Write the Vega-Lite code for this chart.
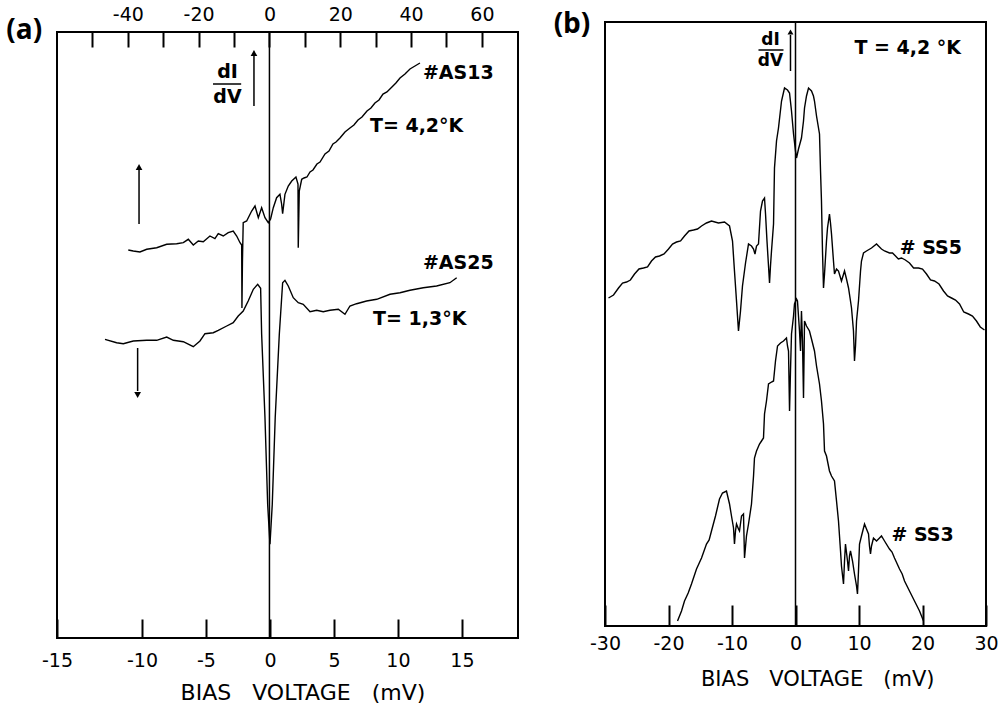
{
  "$schema": "https://vega.github.io/schema/vega-lite/v6.json",
  "autosize": {"type": "pad"},
  "padding": {"left": 5, "top": 4, "right": 0, "bottom": 0},
  "background": "white",
  "bounds": "flush",
  "spacing": 548,
  "config": {
    "view": {"stroke": "black", "strokeWidth": 2},
    "axis": {"domain": false, "grid": false, "tickColor": "black", "tickWidth": 2, "labelColor": "black", "labelFont": "DejaVu Sans", "labelFontSize": 19, "labelFlush": false, "labelOverlap": false, "title": null}
  },
  "resolve": {"scale": {"x": "independent", "y": "independent"}},
  "datasets": {
    "as": [
      {"c":"AS13","v":-11.07,"g":388},{"c":"AS13","v":-10.68,"g":387},{"c":"AS13","v":-10.16,"g":386},{"c":"AS13","v":-9.63,"g":388.7},{"c":"AS13","v":-8.85,"g":390.3},{"c":"AS13","v":-8.07,"g":393.7},{"c":"AS13","v":-7.29,"g":394.3},{"c":"AS13","v":-6.77,"g":395.3},{"c":"AS13","v":-6.38,"g":398.7},{"c":"AS13","v":-5.99,"g":393},{"c":"AS13","v":-5.6,"g":397},{"c":"AS13","v":-5.21,"g":396.3},{"c":"AS13","v":-4.69,"g":402},{"c":"AS13","v":-4.3,"g":399.3},{"c":"AS13","v":-4.04,"g":404.3},{"c":"AS13","v":-3.65,"g":402},{"c":"AS13","v":-3.26,"g":405.3},{"c":"AS13","v":-2.87,"g":407},{"c":"AS13","v":-2.6,"g":402},{"c":"AS13","v":-2.34,"g":395.3},{"c":"AS13","v":-2.21,"g":393},{"c":"AS13","v":-2.19,"g":330},{"c":"AS13","v":-2.15,"g":377},{"c":"AS13","v":-2.09,"g":415.3},{"c":"AS13","v":-1.82,"g":417},{"c":"AS13","v":-1.43,"g":427},{"c":"AS13","v":-1.17,"g":432},{"c":"AS13","v":-0.91,"g":420.3},{"c":"AS13","v":-0.65,"g":430.3},{"c":"AS13","v":-0.39,"g":420.3},{"c":"AS13","v":-0.13,"g":415.3},{"c":"AS13","v":0.05,"g":419},{"c":"AS13","v":0.26,"g":430.3},{"c":"AS13","v":0.52,"g":440.3},{"c":"AS13","v":0.78,"g":443.7},{"c":"AS13","v":0.91,"g":434},{"c":"AS13","v":0.99,"g":424.3},{"c":"AS13","v":1.17,"g":443.7},{"c":"AS13","v":1.43,"g":452},{"c":"AS13","v":1.7,"g":457},{"c":"AS13","v":2.03,"g":461},{"c":"AS13","v":2.19,"g":454},{"c":"AS13","v":2.21,"g":390.3},{"c":"AS13","v":2.29,"g":447},{"c":"AS13","v":2.48,"g":458.7},{"c":"AS13","v":2.66,"g":460},{"c":"AS13","v":2.89,"g":461},{"c":"AS13","v":3.13,"g":466},{"c":"AS13","v":3.36,"g":468},{"c":"AS13","v":3.67,"g":474},{"c":"AS13","v":3.91,"g":476},{"c":"AS13","v":4.3,"g":484},{"c":"AS13","v":4.61,"g":487},{"c":"AS13","v":4.92,"g":494},{"c":"AS13","v":5.16,"g":496},{"c":"AS13","v":5.47,"g":500},{"c":"AS13","v":5.86,"g":506},{"c":"AS13","v":6.25,"g":510},{"c":"AS13","v":6.56,"g":513},{"c":"AS13","v":6.88,"g":518},{"c":"AS13","v":7.19,"g":521},{"c":"AS13","v":7.58,"g":527},{"c":"AS13","v":7.89,"g":530},{"c":"AS13","v":8.2,"g":535},{"c":"AS13","v":8.52,"g":538},{"c":"AS13","v":8.83,"g":544},{"c":"AS13","v":9.14,"g":546},{"c":"AS13","v":9.53,"g":551},{"c":"AS13","v":9.84,"g":555},{"c":"AS13","v":10.16,"g":560},{"c":"AS13","v":10.55,"g":564},{"c":"AS13","v":10.94,"g":569},{"c":"AS13","v":11.33,"g":572},{"c":"AS13","v":11.72,"g":575},
      {"c":"AS25","v":-12.89,"g":298.7},{"c":"AS25","v":-11.98,"g":295.3},{"c":"AS25","v":-11.46,"g":294.3},{"c":"AS25","v":-10.68,"g":297},{"c":"AS25","v":-9.63,"g":297.7},{"c":"AS25","v":-8.85,"g":297.7},{"c":"AS25","v":-8.07,"g":301},{"c":"AS25","v":-7.55,"g":297.7},{"c":"AS25","v":-6.77,"g":296.3},{"c":"AS25","v":-5.99,"g":291.3},{"c":"AS25","v":-5.47,"g":297},{"c":"AS25","v":-5.08,"g":304.3},{"c":"AS25","v":-4.43,"g":305.3},{"c":"AS25","v":-4.04,"g":307.7},{"c":"AS25","v":-3.38,"g":312},{"c":"AS25","v":-2.87,"g":315.3},{"c":"AS25","v":-2.48,"g":322},{"c":"AS25","v":-2.09,"g":327},{"c":"AS25","v":-1.7,"g":337},{"c":"AS25","v":-1.3,"g":348.7},{"c":"AS25","v":-0.96,"g":353.7},{"c":"AS25","v":-0.73,"g":349.7},{"c":"AS25","v":-0.65,"g":303.7},{"c":"AS25","v":-0.39,"g":220.3},{"c":"AS25","v":-0.18,"g":133.7},{"c":"AS25","v":0.0,"g":93.7},{"c":"AS25","v":0.18,"g":133.7},{"c":"AS25","v":0.41,"g":220.3},{"c":"AS25","v":0.73,"g":303.7},{"c":"AS25","v":0.99,"g":355.3},{"c":"AS25","v":1.17,"g":357.7},{"c":"AS25","v":1.43,"g":352},{"c":"AS25","v":1.82,"g":340.3},{"c":"AS25","v":2.21,"g":335.3},{"c":"AS25","v":2.6,"g":333.7},{"c":"AS25","v":3.13,"g":326.3},{"c":"AS25","v":3.65,"g":327.7},{"c":"AS25","v":4.16,"g":326.3},{"c":"AS25","v":4.69,"g":327.7},{"c":"AS25","v":5.34,"g":328.7},{"c":"AS25","v":5.86,"g":323.7},{"c":"AS25","v":6.25,"g":332},{"c":"AS25","v":6.77,"g":334.3},{"c":"AS25","v":7.55,"g":337},{"c":"AS25","v":8.34,"g":338.7},{"c":"AS25","v":9.38,"g":343.7},{"c":"AS25","v":10.16,"g":345.3},{"c":"AS25","v":10.94,"g":347.7},{"c":"AS25","v":11.98,"g":350.3},{"c":"AS25","v":13.02,"g":352},{"c":"AS25","v":14.06,"g":355.3},{"c":"AS25","v":14.59,"g":360.3}
    ],
    "aArrows": [{"v":-10.23,"g":414,"g2":468},{"v":-10.34,"g":290,"g2":247},{"v":-1.25,"g":532,"g2":582}],
    "aHeads": [{"v":-10.23,"g":471,"dir":"up"},{"v":-10.34,"g":243,"dir":"down"},{"v":-1.25,"g":585,"dir":"up"}],
    "aBar": [{"v":-4.45,"v2":-2.25,"g":554}],
    "aLabels": [{"v":11.95,"g":565,"t":"#AS13"},{"v":7.81,"g":512,"t":"T= 4,2°K"},{"v":11.95,"g":375,"t":"#AS25"},{"v":8.05,"g":319,"t":"T= 1,3°K"}],
    "aFrac": [{"v":-3.32,"g":566,"t":"dI"},{"v":-3.32,"g":541,"t":"dV"}],
    "aTag": [{"v":-19.2,"g":607,"t":"(a)"}],
    "aTitle": [{"v":2.58,"g":0,"t":"BIAS\u00a0\u00a0 VOLTAGE\u00a0\u00a0 (mV)"}],
    "ss": [
      {"c":"SS5","v":-29.45,"g":328},{"c":"SS5","v":-28.66,"g":331},{"c":"SS5","v":-27.87,"g":338},{"c":"SS5","v":-27.24,"g":343},{"c":"SS5","v":-26.61,"g":344},{"c":"SS5","v":-26.0,"g":346},{"c":"SS5","v":-25.35,"g":352},{"c":"SS5","v":-24.65,"g":357},{"c":"SS5","v":-23.94,"g":358},{"c":"SS5","v":-23.3,"g":359},{"c":"SS5","v":-22.68,"g":365},{"c":"SS5","v":-22.05,"g":369},{"c":"SS5","v":-21.42,"g":370},{"c":"SS5","v":-20.7,"g":372},{"c":"SS5","v":-20.0,"g":377},{"c":"SS5","v":-19.37,"g":382},{"c":"SS5","v":-18.74,"g":384},{"c":"SS5","v":-18.1,"g":385},{"c":"SS5","v":-17.48,"g":390},{"c":"SS5","v":-16.77,"g":395},{"c":"SS5","v":-16.06,"g":396},{"c":"SS5","v":-15.43,"g":397},{"c":"SS5","v":-14.8,"g":400},{"c":"SS5","v":-14.02,"g":403},{"c":"SS5","v":-13.23,"g":405},{"c":"SS5","v":-12.13,"g":403},{"c":"SS5","v":-11.18,"g":404},{"c":"SS5","v":-10.39,"g":400},{"c":"SS5","v":-9.92,"g":385},{"c":"SS5","v":-9.61,"g":355},{"c":"SS5","v":-9.29,"g":325},{"c":"SS5","v":-8.98,"g":295},{"c":"SS5","v":-8.66,"g":315},{"c":"SS5","v":-8.35,"g":340},{"c":"SS5","v":-7.87,"g":363},{"c":"SS5","v":-7.4,"g":382},{"c":"SS5","v":-6.93,"g":380},{"c":"SS5","v":-6.61,"g":377},{"c":"SS5","v":-6.38,"g":372},{"c":"SS5","v":-6.14,"g":380},{"c":"SS5","v":-5.83,"g":382},{"c":"SS5","v":-5.51,"g":415},{"c":"SS5","v":-5.2,"g":425},{"c":"SS5","v":-4.88,"g":428},{"c":"SS5","v":-4.72,"g":412},{"c":"SS5","v":-4.49,"g":385},{"c":"SS5","v":-4.25,"g":360},{"c":"SS5","v":-4.09,"g":343},{"c":"SS5","v":-3.94,"g":360},{"c":"SS5","v":-3.78,"g":375},{"c":"SS5","v":-3.46,"g":402},{"c":"SS5","v":-3.31,"g":458},{"c":"SS5","v":-2.99,"g":485},{"c":"SS5","v":-2.68,"g":498},{"c":"SS5","v":-2.2,"g":525},{"c":"SS5","v":-1.73,"g":538},{"c":"SS5","v":-1.26,"g":536},{"c":"SS5","v":-0.94,"g":533},{"c":"SS5","v":-0.63,"g":515},{"c":"SS5","v":-0.31,"g":492},{"c":"SS5","v":0.0,"g":475},{"c":"SS5","v":0.16,"g":468},{"c":"SS5","v":0.47,"g":477},{"c":"SS5","v":0.94,"g":488},{"c":"SS5","v":1.26,"g":505},{"c":"SS5","v":1.42,"g":518},{"c":"SS5","v":1.73,"g":530},{"c":"SS5","v":2.05,"g":538},{"c":"SS5","v":2.52,"g":535},{"c":"SS5","v":2.83,"g":530},{"c":"SS5","v":2.99,"g":525},{"c":"SS5","v":3.31,"g":510},{"c":"SS5","v":3.78,"g":492},{"c":"SS5","v":3.94,"g":455},{"c":"SS5","v":4.09,"g":425},{"c":"SS5","v":4.25,"g":375},{"c":"SS5","v":4.41,"g":338},{"c":"SS5","v":4.57,"g":352},{"c":"SS5","v":4.88,"g":385},{"c":"SS5","v":5.04,"g":398},{"c":"SS5","v":5.35,"g":412},{"c":"SS5","v":5.51,"g":403},{"c":"SS5","v":5.67,"g":392},{"c":"SS5","v":5.98,"g":365},{"c":"SS5","v":6.14,"g":352},{"c":"SS5","v":6.46,"g":357},{"c":"SS5","v":6.77,"g":355},{"c":"SS5","v":7.24,"g":345},{"c":"SS5","v":7.72,"g":355},{"c":"SS5","v":8.03,"g":347},{"c":"SS5","v":8.35,"g":338},{"c":"SS5","v":8.66,"g":325},{"c":"SS5","v":8.82,"g":318},{"c":"SS5","v":9.13,"g":295},{"c":"SS5","v":9.29,"g":265},{"c":"SS5","v":9.45,"g":280},{"c":"SS5","v":9.61,"g":305},{"c":"SS5","v":9.92,"g":325},{"c":"SS5","v":10.24,"g":355},{"c":"SS5","v":10.39,"g":365},{"c":"SS5","v":10.71,"g":373},{"c":"SS5","v":11.18,"g":375},{"c":"SS5","v":11.97,"g":378},{"c":"SS5","v":12.76,"g":382},{"c":"SS5","v":13.07,"g":380},{"c":"SS5","v":13.54,"g":377},{"c":"SS5","v":14.02,"g":375},{"c":"SS5","v":14.8,"g":373},{"c":"SS5","v":15.28,"g":373},{"c":"SS5","v":15.75,"g":370},{"c":"SS5","v":16.2,"g":367},{"c":"SS5","v":16.69,"g":368},{"c":"SS5","v":17.3,"g":366},{"c":"SS5","v":17.95,"g":363},{"c":"SS5","v":18.6,"g":358},{"c":"SS5","v":19.37,"g":358},{"c":"SS5","v":20.0,"g":357},{"c":"SS5","v":20.63,"g":352},{"c":"SS5","v":21.26,"g":346},{"c":"SS5","v":21.89,"g":345},{"c":"SS5","v":22.6,"g":342},{"c":"SS5","v":23.31,"g":335},{"c":"SS5","v":23.94,"g":330},{"c":"SS5","v":24.57,"g":328},{"c":"SS5","v":25.2,"g":326},{"c":"SS5","v":25.83,"g":322},{"c":"SS5","v":26.5,"g":314},{"c":"SS5","v":27.24,"g":312},{"c":"SS5","v":27.87,"g":310},{"c":"SS5","v":28.5,"g":305},{"c":"SS5","v":29.1,"g":299},{"c":"SS5","v":29.76,"g":296},
      {"c":"SS3","v":-18.58,"g":5},{"c":"SS3","v":-17.95,"g":15},{"c":"SS3","v":-17.48,"g":25},{"c":"SS3","v":-16.9,"g":33},{"c":"SS3","v":-16.38,"g":42},{"c":"SS3","v":-15.59,"g":57},{"c":"SS3","v":-14.8,"g":68},{"c":"SS3","v":-14.02,"g":82},{"c":"SS3","v":-13.6,"g":86},{"c":"SS3","v":-13.23,"g":95},{"c":"SS3","v":-12.6,"g":110},{"c":"SS3","v":-11.97,"g":127},{"c":"SS3","v":-11.5,"g":133},{"c":"SS3","v":-10.87,"g":135},{"c":"SS3","v":-10.39,"g":122},{"c":"SS3","v":-10.08,"g":110},{"c":"SS3","v":-9.76,"g":98},{"c":"SS3","v":-9.61,"g":82},{"c":"SS3","v":-9.45,"g":95},{"c":"SS3","v":-9.29,"g":102},{"c":"SS3","v":-8.98,"g":97},{"c":"SS3","v":-8.82,"g":95},{"c":"SS3","v":-8.5,"g":110},{"c":"SS3","v":-8.19,"g":112},{"c":"SS3","v":-8.03,"g":68},{"c":"SS3","v":-7.72,"g":90},{"c":"SS3","v":-7.4,"g":102},{"c":"SS3","v":-6.93,"g":122},{"c":"SS3","v":-6.61,"g":150},{"c":"SS3","v":-6.46,"g":168},{"c":"SS3","v":-6.14,"g":175},{"c":"SS3","v":-5.67,"g":182},{"c":"SS3","v":-5.35,"g":185},{"c":"SS3","v":-5.04,"g":188},{"c":"SS3","v":-4.88,"g":212},{"c":"SS3","v":-4.57,"g":225},{"c":"SS3","v":-4.25,"g":242},{"c":"SS3","v":-3.78,"g":244},{"c":"SS3","v":-3.46,"g":245},{"c":"SS3","v":-3.15,"g":265},{"c":"SS3","v":-2.83,"g":280},{"c":"SS3","v":-2.36,"g":283},{"c":"SS3","v":-1.89,"g":285},{"c":"SS3","v":-1.42,"g":288},{"c":"SS3","v":-1.26,"g":280},{"c":"SS3","v":-1.1,"g":275},{"c":"SS3","v":-0.94,"g":215},{"c":"SS3","v":-0.79,"g":255},{"c":"SS3","v":-0.63,"g":292},{"c":"SS3","v":-0.31,"g":310},{"c":"SS3","v":-0.16,"g":322},{"c":"SS3","v":0.16,"g":327},{"c":"SS3","v":0.31,"g":325},{"c":"SS3","v":0.47,"g":310},{"c":"SS3","v":0.63,"g":295},{"c":"SS3","v":0.79,"g":275},{"c":"SS3","v":0.94,"g":315},{"c":"SS3","v":1.1,"g":285},{"c":"SS3","v":1.26,"g":228},{"c":"SS3","v":1.42,"g":305},{"c":"SS3","v":1.73,"g":300},{"c":"SS3","v":2.2,"g":295},{"c":"SS3","v":2.52,"g":287},{"c":"SS3","v":2.99,"g":275},{"c":"SS3","v":3.31,"g":260},{"c":"SS3","v":3.78,"g":242},{"c":"SS3","v":4.09,"g":225},{"c":"SS3","v":4.41,"g":202},{"c":"SS3","v":4.57,"g":175},{"c":"SS3","v":4.88,"g":170},{"c":"SS3","v":5.35,"g":155},{"c":"SS3","v":5.67,"g":150},{"c":"SS3","v":6.14,"g":145},{"c":"SS3","v":6.46,"g":125},{"c":"SS3","v":6.77,"g":105},{"c":"SS3","v":7.09,"g":75},{"c":"SS3","v":7.24,"g":60},{"c":"SS3","v":7.56,"g":42},{"c":"SS3","v":7.72,"g":65},{"c":"SS3","v":7.87,"g":82},{"c":"SS3","v":8.19,"g":65},{"c":"SS3","v":8.35,"g":55},{"c":"SS3","v":8.5,"g":70},{"c":"SS3","v":8.66,"g":75},{"c":"SS3","v":8.98,"g":65},{"c":"SS3","v":9.29,"g":52},{"c":"SS3","v":9.61,"g":40},{"c":"SS3","v":9.76,"g":32},{"c":"SS3","v":9.92,"g":55},{"c":"SS3","v":10.08,"g":82},{"c":"SS3","v":10.39,"g":90},{"c":"SS3","v":10.87,"g":102},{"c":"SS3","v":11.18,"g":97},{"c":"SS3","v":11.5,"g":92},{"c":"SS3","v":11.65,"g":80},{"c":"SS3","v":11.81,"g":72},{"c":"SS3","v":11.97,"g":80},{"c":"SS3","v":12.28,"g":88},{"c":"SS3","v":12.76,"g":85},{"c":"SS3","v":13.23,"g":88},{"c":"SS3","v":13.54,"g":90},{"c":"SS3","v":14.02,"g":85},{"c":"SS3","v":14.8,"g":77},{"c":"SS3","v":15.2,"g":74},{"c":"SS3","v":15.59,"g":68},{"c":"SS3","v":16.38,"g":57},{"c":"SS3","v":16.8,"g":52},{"c":"SS3","v":17.17,"g":45},{"c":"SS3","v":17.95,"g":35},{"c":"SS3","v":18.74,"g":25},{"c":"SS3","v":19.53,"g":15},{"c":"SS3","v":20.16,"g":5}
    ],
    "bZero": [{"v":0,"g":0,"g2":604}],
    "bArrows": [{"v":-0.79,"g":555,"g2":591}],
    "bHeads": [{"v":-0.79,"g":594,"dir":"up"}],
    "bBar": [{"v":-5.83,"v2":-1.89,"g":576}],
    "bLabels": [{"v":9.29,"g":578,"t":"T = 4,2 °K"},{"v":16.4,"g":378,"t":"# SS5"},{"v":15.1,"g":91,"t":"# SS3"}],
    "bFrac": [{"v":-3.94,"g":586,"t":"dI"},{"v":-3.94,"g":565,"t":"dV"}],
    "bTag": [{"v":-35.2,"g":601,"t":"(b)"}],
    "bTitle": [{"v":3.5,"g":0,"t":"BIAS\u00a0\u00a0 VOLTAGE\u00a0\u00a0 (mV)"}]
  },
  "hconcat": [
    {
      "bounds": "flush",
      "spacing": 9,
      "vconcat": [
        {"width": 461, "height": 1, "data": {"values": [{"t": ""}]}, "mark": {"type": "text", "opacity": 0}, "encoding": {}, "view": {"stroke": null}},
        {
          "width": 461,
          "height": 606,
          "resolve": {"scale": {"x": "independent"}},
          "layer": [
            {
              "encoding": {
                "x": {"field": "v", "type": "quantitative", "scale": {"domain": [-16.64, 19.38], "nice": false, "zero": false},
                      "axis": {"orient": "bottom", "values": [-16.64, -10, -5, 0, 5, 10, 15], "labelExpr": "datum.value < -16 ? '-15' : '' + datum.value", "tickSize": -19, "labelPadding": 32}},
                "y": {"field": "g", "type": "quantitative", "scale": {"domain": [0, 606], "nice": false, "zero": false}, "axis": null}
              },
              "layer": [
                {"data": {"name": "as"}, "mark": {"type": "line", "color": "black", "strokeWidth": 1.4}, "encoding": {"detail": {"field": "c"}}},
                {"data": {"name": "aArrows"}, "mark": {"type": "rule", "color": "black", "strokeWidth": 1.5}, "encoding": {"y2": {"field": "g2"}}},
                {"data": {"name": "aHeads"}, "mark": {"type": "point", "filled": true, "color": "black", "opacity": 1, "size": 45}, "encoding": {"shape": {"field": "dir", "type": "nominal", "scale": {"domain": ["up", "down"], "range": ["triangle-up", "triangle-down"]}, "legend": null}}},
                {"data": {"name": "aBar"}, "mark": {"type": "rule", "color": "black", "strokeWidth": 1.5}, "encoding": {"x2": {"field": "v2"}}},
                {"data": {"name": "aLabels"}, "mark": {"type": "text", "align": "left", "baseline": "middle", "font": "DejaVu Sans", "fontWeight": "bold", "fontSize": 19, "color": "black"}, "encoding": {"text": {"field": "t"}}},
                {"data": {"name": "aFrac"}, "mark": {"type": "text", "align": "center", "baseline": "middle", "font": "DejaVu Sans", "fontWeight": "bold", "fontSize": 19, "color": "black"}, "encoding": {"text": {"field": "t"}}},
                {"data": {"name": "aTag"}, "mark": {"type": "text", "align": "center", "baseline": "middle", "font": "Open Sans", "fontWeight": "bold", "fontSize": 28, "color": "black"}, "encoding": {"text": {"field": "t"}}},
                {"data": {"name": "aTitle"}, "mark": {"type": "text", "align": "center", "baseline": "middle", "dy": 55, "font": "DejaVu Sans", "fontSize": 22, "color": "black"}, "encoding": {"text": {"field": "t"}}}
              ]
            },
            {
              "data": {"values": [{"t": ""}]},
              "mark": {"type": "rule", "color": "black", "strokeWidth": 1.5},
              "encoding": {
                "x": {"datum": 0, "type": "quantitative", "scale": {"domain": [-60, 70.2], "nice": false, "zero": false},
                      "axis": {"orient": "top", "values": [-50, -40, -30, -20, -10, 0, 10, 20, 30, 40, 50, 60], "labelExpr": "datum.value % 20 == 0 ? '' + datum.value : ''", "tickSize": -15, "labelPadding": 23}}
              }
            }
          ]
        }
      ]
    },
    {
      "width": 381,
      "height": 604,
      "encoding": {
        "x": {"field": "v", "type": "quantitative", "scale": {"domain": [-30, 30], "nice": false, "zero": false},
              "axis": {"orient": "bottom", "values": [-30, -20, -10, 0, 10, 20, 30], "labelExpr": "'' + datum.value", "tickSize": -21, "labelPadding": 29}},
        "y": {"field": "g", "type": "quantitative", "scale": {"domain": [0, 604], "nice": false, "zero": false}, "axis": null}
      },
      "layer": [
        {"data": {"name": "bZero"}, "mark": {"type": "rule", "color": "black", "strokeWidth": 1.5}, "encoding": {"y2": {"field": "g2"}}},
        {"data": {"name": "ss"}, "mark": {"type": "line", "color": "black", "strokeWidth": 1.4}, "encoding": {"detail": {"field": "c"}}},
        {"data": {"name": "bArrows"}, "mark": {"type": "rule", "color": "black", "strokeWidth": 1.5}, "encoding": {"y2": {"field": "g2"}}},
        {"data": {"name": "bHeads"}, "mark": {"type": "point", "filled": true, "color": "black", "opacity": 1, "size": 35}, "encoding": {"shape": {"field": "dir", "type": "nominal", "scale": {"domain": ["up", "down"], "range": ["triangle-up", "triangle-down"]}, "legend": null}}},
        {"data": {"name": "bBar"}, "mark": {"type": "rule", "color": "black", "strokeWidth": 1.5}, "encoding": {"x2": {"field": "v2"}}},
        {"data": {"name": "bLabels"}, "mark": {"type": "text", "align": "left", "baseline": "middle", "font": "DejaVu Sans", "fontWeight": "bold", "fontSize": 19, "color": "black"}, "encoding": {"text": {"field": "t"}}},
        {"data": {"name": "bFrac"}, "mark": {"type": "text", "align": "center", "baseline": "middle", "font": "DejaVu Sans", "fontWeight": "bold", "fontSize": 17, "color": "black"}, "encoding": {"text": {"field": "t"}}},
        {"data": {"name": "bTag"}, "mark": {"type": "text", "align": "center", "baseline": "middle", "font": "Open Sans", "fontWeight": "bold", "fontSize": 28, "color": "black"}, "encoding": {"text": {"field": "t"}}},
        {"data": {"name": "bTitle"}, "mark": {"type": "text", "align": "center", "baseline": "middle", "dy": 54, "font": "DejaVu Sans", "fontSize": 21, "color": "black"}, "encoding": {"text": {"field": "t"}}}
      ]
    }
  ]
}
